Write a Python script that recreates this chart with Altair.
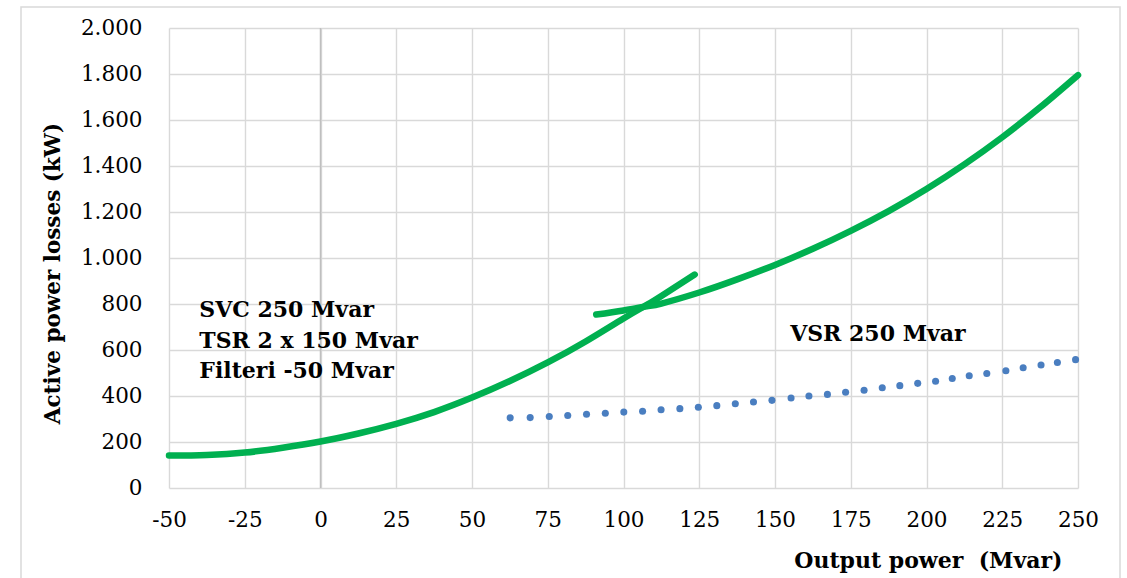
import altair as alt
import pandas as pd

# Green curve 1 (SVC, rising part up to the switching point)
svc_x = [-50, -37.5, -25, -12.5, 0, 12.5, 25, 37.5, 50, 62.5, 75, 87.5, 100, 107.7, 112.5, 123.5]
svc_y = [141, 144, 154, 175, 202, 237, 279, 330, 393, 465, 546, 637, 737, 796, 835, 928]

# Green curve 2 (after switching)
svc2_x = [91, 100, 107.7, 112.5, 125, 137.5, 150, 162.5, 175, 187.5, 200, 212.5, 225, 237.5, 250]
svc2_y = [754, 772, 790, 802, 850, 907, 970, 1040, 1118, 1204, 1300, 1407, 1525, 1655, 1795]

# Blue dotted series (VSR 250 Mvar)
vsr_x = [62.6, 69.2, 75.5, 81.6, 87.8, 94.0, 100.1, 106.3, 112.4, 118.6, 124.7, 130.8, 136.9,
         142.9, 149.0, 155.3, 161.2, 167.3, 173.3, 179.4, 185.4, 191.2, 197.1, 203.0, 208.5,
         214.1, 219.9, 226.2, 231.9, 237.8, 243.2, 249.2]
vsr_y = [305, 306, 311, 315, 321, 325, 330, 334, 340, 345, 351, 358, 366,
         374, 381, 391, 400, 407, 416, 425, 436, 445, 455, 464, 476,
         488, 498, 510, 523, 535, 546, 558]

# Annotations
ann_text = ["SVC 250 Mvar", "TSR 2 x 150 Mvar", "Filteri -50 Mvar", "VSR 250 Mvar"]
ann_x = [-40, -40, -40, 155]
ann_y = [775, 637, 507, 671]

x_ticks = [-50, -25, 0, 25, 50, 75, 100, 125, 150, 175, 200, 225, 250]
y_ticks = [0, 200, 400, 600, 800, 1000, 1200, 1400, 1600, 1800, 2000]

GREEN = "#00B050"
BLUE = "#4A7EC0"
FONT = "DejaVu Serif"

df1 = pd.DataFrame({"x": svc_x, "y": svc_y})
df2 = pd.DataFrame({"x": svc2_x, "y": svc2_y})
dfv = pd.DataFrame({"x": vsr_x, "y": vsr_y})
dfa = pd.DataFrame({"t": ann_text, "x": ann_x, "y": ann_y})

xs = alt.Scale(domain=[-50, 250], nice=False, zero=False)
ys = alt.Scale(domain=[0, 2000], nice=False)

xenc = alt.X("x:Q", scale=xs, axis=alt.Axis(
    values=x_ticks, title="Output power\u00a0 (Mvar)", grid=True, ticks=False, domain=False,
    labelFont=FONT, labelFontSize=21.5, labelColor="#000000", labelPadding=21,
    labelExpr="datum.value < 0 ? '-' + format(-datum.value, 'd') : format(datum.value, 'd')",
    labelFlush=False, labelOverlap=False,
    titleFont=FONT, titleFontSize=22, titleFontWeight="bold", titleColor="#000000",
    titleAlign="right", titleAnchor="end", titleX=893, titleY=72, titleBaseline="middle"))
yenc = alt.Y("y:Q", scale=ys, axis=alt.Axis(
    values=y_ticks, title="Active power losses (kW)", grid=True, ticks=False, domain=False,
    labelFont=FONT, labelFontSize=21.5, labelColor="#000000", labelPadding=27,
    labelExpr="replace(format(datum.value, ','), ',', '.')",
    labelFlush=False, labelOverlap=False,
    titleFont=FONT, titleFontSize=21.5, titleFontWeight="bold", titleColor="#000000",
    titleX=-116, titleY=245, titleBaseline="middle", titleAngle=270))

frame = alt.Chart(pd.DataFrame({"a": [0]})).mark_rect(
    filled=False, stroke="#d9d9d9", strokeWidth=1.5).encode(
    x=alt.value(-148), x2=alt.value(951), y=alt.value(-21), y2=alt.value(570))

zero_rule = alt.Chart(pd.DataFrame({"x": [0]})).mark_rule(
    color="#bfbfbf", strokeWidth=1.5).encode(x=alt.X("x:Q", scale=xs))

base_axes = alt.Chart(df1).mark_point(opacity=0).encode(x=xenc, y=yenc)

line1 = alt.Chart(df1).mark_line(color=GREEN, strokeWidth=6.5, strokeCap="round",
                                 interpolate="natural").encode(
    x=alt.X("x:Q", scale=xs), y=alt.Y("y:Q", scale=ys))
line2 = alt.Chart(df2).mark_line(color=GREEN, strokeWidth=6.5, strokeCap="round",
                                 interpolate="natural").encode(
    x=alt.X("x:Q", scale=xs), y=alt.Y("y:Q", scale=ys))
dots = alt.Chart(dfv).mark_circle(color=BLUE, size=50, opacity=1).encode(
    x=alt.X("x:Q", scale=xs), y=alt.Y("y:Q", scale=ys))
labels = alt.Chart(dfa).mark_text(
    align="left", baseline="middle", font=FONT, fontSize=22, fontWeight="bold",
    color="#000000").encode(
    x=alt.X("x:Q", scale=xs), y=alt.Y("y:Q", scale=ys), text="t:N")

chart = alt.layer(base_axes, frame, zero_rule, dots, line1, line2, labels).properties(
    width=909, height=460,
    padding={"left": 169, "top": 28, "right": 49, "bottom": 90},
    autosize=alt.AutoSizeParams(type="none"),
    background="#ffffff",
).configure_view(stroke=None).configure_axis(
    gridColor="#d9d9d9", gridWidth=1.4)

chart.save("out.html", embed_options={"renderer": "svg", "actions": False})
